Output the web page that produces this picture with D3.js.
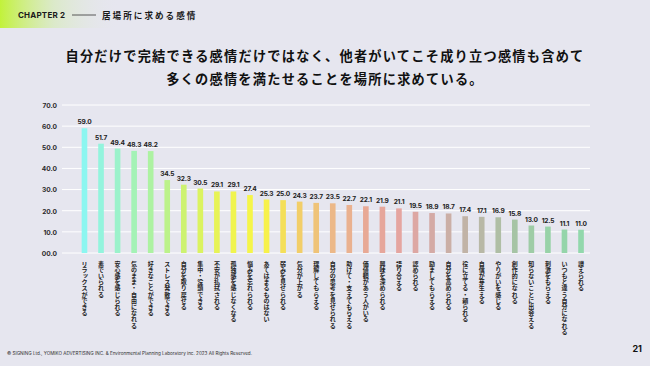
<!DOCTYPE html>
<html><head><meta charset="utf-8">
<script src="https://cdn.jsdelivr.net/npm/d3@7"></script>
<style>
html,body{margin:0;padding:0;background:#e6e6ef;}
svg{display:block;}
</style></head>
<body>
<svg id="chart" width="650" height="366"></svg>
<script>
const categories = ["リラックスができる","素でいられる","安心感を感じられる","気のまま・自由になれる","好きなことができる","ストレス発散できる","自分を取り戻せる","集中・没頭できる","不安が払拭される","孤独感を感じなくなる","悩みを忘れられる","あてはまるものはない","弱みを見せられる","気分が上がる","理解してもらえる","自分の思考を見せられる","助けて・支えてもらえる","価値観があう人がいる","興味を深められる","語り合える","認められる","励ましてもらえる","自分を高められる","役に立てる・頼られる","自信が芽生える","やりがいを感じる","創作的になれる","知らないことに出会える","刺激をもらえる","いつもと違う自分になれる","讃えられる"];
const values = [59.0,51.7,49.4,48.3,48.2,34.5,32.3,30.5,29.1,29.1,27.4,25.3,25.0,24.3,23.7,23.5,22.7,22.1,21.9,21.1,19.5,18.9,18.7,17.4,17.1,16.9,15.8,13.0,12.5,11.1,11.0];
const yTicks = [0,10,20,30,40,50,60,70];
const titleLines = ["自分だけで完結できる感情だけではなく、他者がいてこそ成り立つ感情も含めて","多くの感情を満たせることを場所に求めている。"];
const chapterLabel = "CHAPTER 2";
const chapterTitle = "居場所に求める感情";
const copyright = "© SIGNING Ltd., YOMIKO ADVERTISING INC. & Environmental Planning Laboratory inc. 2023 All Rights Reserved.";
const pageNum = "21";

const svg = d3.select("#chart");
const defs = svg.append("defs");
const g1 = defs.append("linearGradient").attr("id","hdr").attr("x1","0").attr("x2","1").attr("y1","0").attr("y2","0");
g1.append("stop").attr("offset","0%").attr("stop-color","#c2f23a").attr("stop-opacity",1);
g1.append("stop").attr("offset","45%").attr("stop-color","#d4ecb0").attr("stop-opacity",0.6);
g1.append("stop").attr("offset","100%").attr("stop-color","#e6e6ef").attr("stop-opacity",0);

svg.append("rect").attr("width",650).attr("height",366).attr("fill","#e6e6ef");
svg.append("rect").attr("x",0).attr("y",0).attr("width",120).attr("height",28).attr("fill","url(#hdr)");

const jp = "'Noto Sans CJK JP','Noto Sans',sans-serif";
const num = "Inter,'Liberation Sans',sans-serif";

svg.append("text").attr("x",18).attr("y",18).attr("font-family",num).attr("font-weight",700)
  .attr("font-size",8).attr("fill","#1a1a1a").attr("letter-spacing",0.2).text(chapterLabel);
svg.append("line").attr("x1",72).attr("x2",96).attr("y1",15).attr("y2",15).attr("stroke","#333").attr("stroke-width",0.8);
svg.append("text").attr("x",102).attr("y",18.5).attr("font-family",jp).attr("font-weight",700)
  .attr("font-size",8.6).attr("letter-spacing",2).attr("fill","#1a1a1a").text(chapterTitle);

svg.selectAll("text.title").data(titleLines).join("text").attr("class","title")
  .attr("x",325).attr("y",(d,i)=>61+i*23).attr("text-anchor","middle")
  .attr("font-family",jp).attr("font-weight",700).attr("font-size",13.2).attr("letter-spacing",1.25)
  .attr("fill","#111").text(d=>d);

const y = d3.scaleLinear().domain([0,70]).range([253,105]);
const x = d3.scaleBand().domain(categories).range([76.2,589.3]).paddingInner(0.66).paddingOuter(0.33);

svg.append("g").selectAll("line").data(yTicks).join("line")
  .attr("x1",62).attr("x2",590).attr("y1",d=>y(d)).attr("y2",d=>y(d))
  .attr("stroke","#ffffff").attr("stroke-width",1);

const yAxis = d3.axisLeft(y).tickValues(yTicks).tickFormat(d3.format("04.1f")).tickSize(0).tickPadding(0);
const ya = svg.append("g").attr("transform","translate(57,0)").call(yAxis);
ya.select(".domain").remove();
ya.selectAll("text").attr("font-family",num).attr("font-weight",700).attr("font-size",6.6).attr("fill","#2a2a2a").attr("dy","0.35em");

const colorStops = ["#8cf6f0","#9cf2c8","#b0f29c","#d4f266","#eef450","#f8f646","#f2d066","#ecb888","#e8a896","#e4a4a2","#d0aca6","#bcb6a6","#a8c2a4","#98d2a8","#92d8ac"];
const color = d3.scaleLinear().domain(d3.range(colorStops.length).map(i=>i*(categories.length-1)/(colorStops.length-1))).range(colorStops).interpolate(d3.interpolateRgb);

svg.append("g").selectAll("rect").data(values).join("rect")
  .attr("x",(d,i)=>x(categories[i])).attr("width",x.bandwidth())
  .attr("y",d=>y(d)).attr("height",d=>y(0)-y(d))
  .attr("fill",(d,i)=>color(i));

svg.append("g").selectAll("text").data(values).join("text")
  .attr("x",(d,i)=>x(categories[i])+x.bandwidth()/2).attr("y",d=>y(d)-4)
  .attr("text-anchor","middle").attr("font-family",num).attr("font-weight",700).attr("font-size",6.6)
  .attr("letter-spacing",-0.2).attr("fill","#222").text(d=>d.toFixed(1));

// vertical category labels, one glyph per tspan stacked downward
const charStep = 6.2;
const lbl = svg.append("g").selectAll("text").data(categories).join("text")
  .attr("font-family",jp).attr("font-weight",700).attr("font-size",6)
  .attr("text-anchor","middle").attr("fill","#222");
lbl.each(function(d){
  const cx = x(d)+x.bandwidth()/2;
  const t = d3.select(this);
  Array.from(d).forEach((ch,k)=>{
    const small = "ッャュョァィゥェォっゃゅょぁぃぅぇぉ".includes(ch);
    t.append("tspan").attr("x", cx + (small?1:0)).attr("y", 265.5 + k*charStep - (small?1:0)).text(ch);
  });
});

svg.append("text").attr("x",7).attr("y",355).attr("font-family",num).attr("font-size",4.6)
  .attr("fill","#333").text(copyright);
svg.append("text").attr("x",642).attr("y",352).attr("text-anchor","end").attr("font-family",num)
  .attr("font-weight",700).attr("font-size",9).attr("fill","#111").text(pageNum);
</script>
</body></html>
